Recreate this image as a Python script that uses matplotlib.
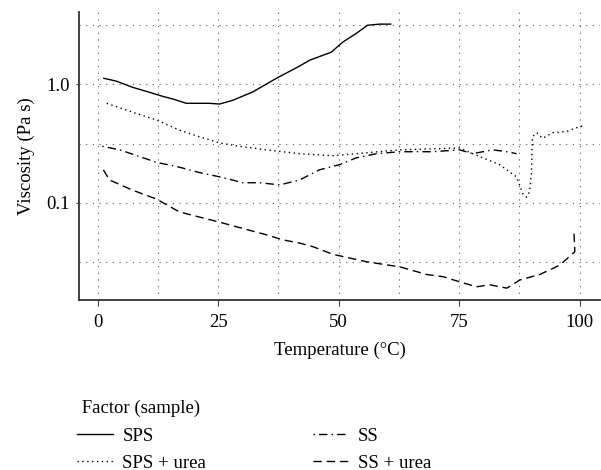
import numpy as np
import matplotlib.pyplot as plt
from matplotlib.ticker import FixedLocator, NullFormatter

plt.rcParams['font.family'] = ['Liberation Serif', 'DejaVu Serif']

# SPS
sps_t = [1.3, 3.9, 7.3, 10.1, 13.5, 15.6, 18.4, 23.2, 25.3, 28.0, 32.2, 37.1, 41.9, 44.0, 48.5, 50.8, 53.7, 56.0, 58.5, 60.8]
sps_v = [1.12, 1.06, 0.94, 0.87, 0.79, 0.75, 0.69, 0.69, 0.68, 0.73, 0.86, 1.12, 1.42, 1.59, 1.86, 2.25, 2.68, 3.13, 3.2, 3.2]

# SPS + urea
spsu_t = [1.9, 7.3, 12.2, 17.0, 21.2, 25.3, 29.5, 35.0, 41.9, 48.8, 53.7, 62.7, 75.1, 77.8, 83.4, 86.9, 88.2, 89.0, 89.6, 90.0, 90.2, 91.1, 92.3, 94.4, 97.3, 99.4, 101.0]
spsu_v = [0.69, 0.58, 0.50, 0.41, 0.36, 0.32, 0.30, 0.28, 0.26, 0.25, 0.26, 0.28, 0.29, 0.26, 0.21, 0.166, 0.12, 0.112, 0.124, 0.18, 0.36, 0.39, 0.35, 0.39, 0.40, 0.43, 0.45]

# SS
ss_t = [1.0, 4.6, 12.2, 17.0, 21.2, 25.3, 28.0, 30.1, 33.6, 37.8, 41.9, 46.0, 50.2, 53.7, 57.9, 62.7, 69.5, 75.1, 77.8, 82.0, 84.9, 86.9]
ss_v = [0.30, 0.28, 0.22, 0.20, 0.18, 0.166, 0.156, 0.148, 0.148, 0.142, 0.156, 0.19, 0.21, 0.24, 0.26, 0.27, 0.27, 0.28, 0.26, 0.28, 0.27, 0.26]

# SS + urea
ssu_t = [1.2, 2.5, 7.3, 12.2, 17.0, 21.2, 25.3, 29.5, 35.0, 38.4, 41.9, 44.6, 48.8, 55.8, 62.7, 68.3, 71.6, 75.1, 78.6, 81.3, 84.9, 87.6, 91.7, 95.9, 99.0, 98.8]
ssu_v = [0.19, 0.156, 0.128, 0.108, 0.084, 0.076, 0.069, 0.062, 0.054, 0.049, 0.046, 0.043, 0.037, 0.032, 0.029, 0.025, 0.024, 0.0217, 0.0197, 0.0205, 0.0192, 0.0225, 0.025, 0.030, 0.039, 0.059]

fig = plt.figure(figsize=(6.01, 4.70), dpi=100)
ax = fig.add_axes([0.131, 0.362, 0.868, 0.612])

ax.plot(sps_t, sps_v, color='black', lw=1.0, ls='-', label='SPS')
ax.plot(spsu_t, spsu_v, color='black', lw=1.0, ls=(0, (1, 2.5)), label='SPS + urea')
ax.plot(ss_t, ss_v, color='black', lw=1.0, ls=(0, (1, 3, 6, 3)), label='SS')
ax.plot(ssu_t, ssu_v, color='black', lw=1.0, ls=(0, (6, 3.5)), label='SS + urea')

ax.set_yscale('log')
ax.set_xlim(-3.9, 104.3)
ax.set_ylim(0.0153, 4.03)

ax.set_xticks([0, 25, 50, 75, 100])
ax.set_xticks([12.5, 37.5, 62.5, 87.5], minor=True)
ax.yaxis.set_major_locator(FixedLocator([0.1, 1.0]))
ax.yaxis.set_minor_locator(FixedLocator([10 ** -1.5, 10 ** -0.5, 10 ** 0.5]))
ax.yaxis.set_minor_formatter(NullFormatter())
ax.set_yticklabels(['0.1', '1.0'])

ax.grid(True, which='both', color='#555555', ls=(0, (1, 5)), lw=0.8)
ax.tick_params(which='major', axis='x', length=4, color='#444444', labelsize=13.5, pad=6)
ax.tick_params(which='major', axis='y', length=2.5, color='#444444', labelsize=13.5, pad=4)
ax.tick_params(which='minor', length=0)

for s in ['top', 'right']:
    ax.spines[s].set_visible(False)
for s in ['left', 'bottom']:
    ax.spines[s].set_color('#333333')
    ax.spines[s].set_linewidth(1.3)

ax.set_xlabel('Temperature (°C)', fontsize=13.5, labelpad=8)
ax.set_ylabel('Viscosity (Pa s)', fontsize=13.5, labelpad=8)

leg = fig.legend(loc='upper left', bbox_to_anchor=(0.113, 0.170), ncol=2, frameon=False,
                 title=' Factor (sample)', fontsize=13.5, title_fontsize=13.5, borderpad=0,
                 handlelength=1.9, handletextpad=0.5, columnspacing=5.7,
                 labelspacing=0.5, alignment='left')
leg._legend_box.sep = 8

plt.savefig('out.png', dpi=100)
